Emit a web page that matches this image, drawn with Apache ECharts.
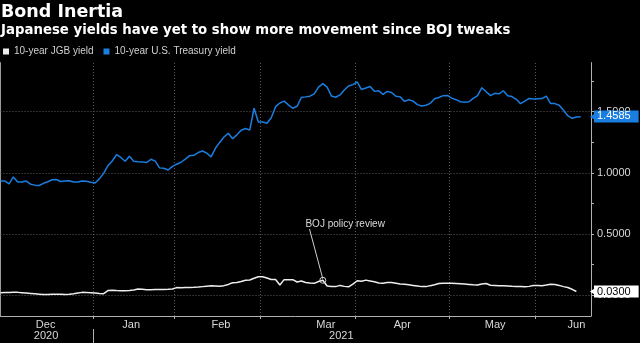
<!DOCTYPE html>
<html><head><meta charset="utf-8">
<script src="https://cdn.jsdelivr.net/npm/echarts@6/dist/echarts.min.js"></script>
<style>html,body{margin:0;padding:0;background:#000}#c{width:640px;height:343px}</style>
</head><body><div id="c"></div>
<script>
// ---- data ----
const months = ['Dec','Jan','Feb','Mar','Apr','May','Jun'];
const monthStarts = [0,22,41,61,83,105,125];          // trading-day index of month starts
const monthLabelAt = [10.5,30.4,51.3,75.7,93.5,115.1,134];
const years = ['2020','2021'];
const yearLabelAt = [10.6,79.3];
const yearBreak = [21.5];
const xEnd = 137.4;
const yTicks = [0,0.5,1,1.5];
const yMinorTicks = [0,0.25,0.5,0.75,1,1.25,1.5,1.75];
const seriesNames = ['10-year JGB yield','10-year U.S. Treasury yield'];

const ust = [0.933,0.933,0.91,0.966,0.925,0.924,0.932,0.907,0.899,0.896,
0.914,0.927,0.943,0.945,0.929,0.932,0.935,0.924,0.925,0.932,
0.93,0.922,0.917,0.95,0.995,1.058,1.096,1.148,1.125,1.094,
1.135,1.095,1.09,1.089,1.084,1.11,1.095,1.04,1.037,1.023,
1.052,1.07,1.086,1.112,1.14,1.143,1.165,1.178,1.16,1.13,
1.2,1.248,1.292,1.323,1.278,1.31,1.347,1.362,1.348,1.527,
1.415,1.415,1.405,1.45,1.54,1.57,1.585,1.555,1.527,1.543,
1.615,1.62,1.626,1.644,1.7,1.728,1.7,1.627,1.617,1.636,
1.676,1.709,1.72,1.742,1.68,1.692,1.705,1.665,1.67,1.64,
1.665,1.655,1.625,1.62,1.583,1.597,1.585,1.557,1.545,1.552,
1.567,1.605,1.615,1.63,1.632,1.61,1.597,1.58,1.576,1.58,
1.607,1.63,1.695,1.662,1.63,1.649,1.645,1.67,1.63,1.623,
1.6,1.565,1.585,1.607,1.602,1.605,1.606,1.627,1.565,1.565,
1.552,1.51,1.466,1.445,1.455,1.4585];

const jgb = [0.02,0.021,0.022,0.024,0.023,0.02,0.017,0.014,0.011,0.008,
0.005,0.005,0.007,0.008,0.007,0.006,0.008,0.012,0.018,0.023,
0.022,0.02,0.017,0.014,0.012,0.038,0.04,0.038,0.037,0.036,
0.038,0.042,0.05,0.048,0.045,0.045,0.046,0.046,0.047,0.048,
0.05,0.062,0.061,0.062,0.063,0.064,0.066,0.07,0.074,0.077,
0.075,0.073,0.078,0.088,0.101,0.104,0.112,0.122,0.124,0.138,
0.151,0.151,0.14,0.128,0.128,0.083,0.127,0.127,0.127,0.108,
0.116,0.104,0.1,0.097,0.112,0.122,0.075,0.071,0.07,0.08,
0.072,0.068,0.09,0.118,0.114,0.123,0.116,0.109,0.1,0.098,
0.103,0.104,0.098,0.092,0.089,0.085,0.08,0.075,0.07,0.07,
0.078,0.085,0.095,0.097,0.097,0.097,0.096,0.094,0.091,0.088,
0.085,0.083,0.092,0.096,0.081,0.08,0.078,0.077,0.075,0.073,
0.072,0.071,0.069,0.072,0.08,0.08,0.078,0.083,0.09,0.088,
0.08,0.07,0.063,0.048,0.03];

const annotText = 'BOJ policy review';
const annotIndex = 75;
const annotLabelAt = [80.2, 0.582];
const annotLineTop = [71.9, 0.54];

// ---- chart ----
const boundaries = monthStarts.slice(1).map(s => s - 0.5);
const nearest = (arr, v) => { let b = 0; arr.forEach((a, k) => { if (Math.abs(a - v) < Math.abs(arr[b] - v)) b = k; }); return b; };
const blue = '#1a7ee0';
const white = '#eeeeee';
const smallFont = 'Liberation Sans';
const lastU = ust[ust.length - 1];
const lastJ = jgb[jgb.length - 1];
const hidden = {color: 'rgba(0,0,0,0)', width: 0};

const chart = echarts.init(document.getElementById('c'), null, {renderer: 'canvas'});
chart.setOption({
  backgroundColor: '#000',
  animation: false,
  title: {
    text: 'Bond Inertia',
    subtext: 'Japanese yields have yet to show more movement since BOJ tweaks',
    left: 1, top: 3, padding: 0, itemGap: 3,
    textStyle: {color: '#fff', fontSize: 17.5, fontWeight: 'bold', fontFamily: 'DejaVu Sans'},
    subtextStyle: {color: '#fff', fontSize: 13.3, fontWeight: 'bold', fontFamily: 'DejaVu Sans'}
  },
  legend: {
    data: seriesNames,
    left: 3, top: 46.5, padding: 0, itemGap: 10,
    icon: 'rect', itemWidth: 6, itemHeight: 6,
    textStyle: {color: '#d0d0d0', fontSize: 10, fontFamily: smallFont}
  },
  grid: {left: 0.5, right: 49, top: 62.6, bottom: 27, containLabel: false},
  xAxis: [{
    type: 'value', min: 0, max: xEnd, position: 'bottom',
    axisLine: {show: true, onZero: false, lineStyle: {color: '#b0b0b0', width: 1}},
    axisTick: {show: true, customValues: boundaries, length: 3, lineStyle: {color: '#b0b0b0'}},
    axisLabel: {customValues: monthLabelAt, formatter: v => months[nearest(monthLabelAt, v)],
      color: '#d8d8d8', fontSize: 11, fontFamily: smallFont, margin: 3},
    splitLine: {show: false}
  }, {
    type: 'value', min: 0, max: xEnd, position: 'bottom', offset: 13,
    axisLine: {show: false, onZero: false},
    axisTick: {show: true, customValues: yearBreak, length: 14, lineStyle: {color: '#b0b0b0'}},
    axisLabel: {customValues: yearLabelAt, formatter: v => years[nearest(yearLabelAt, v)],
      color: '#d8d8d8', fontSize: 11, fontFamily: smallFont, margin: 1},
    splitLine: {show: false}
  }],
  yAxis: [{
    type: 'value', min: -0.17, max: 1.9, position: 'right',
    axisLine: {show: true, onZero: false, lineStyle: {color: '#b0b0b0', width: 1}},
    axisTick: {show: true, customValues: yMinorTicks, length: 3, lineStyle: {color: '#b0b0b0'}},
    axisLabel: {customValues: yTicks, formatter: v => v.toFixed(4),
      color: '#d8d8d8', fontSize: 11, fontFamily: smallFont, margin: 6},
    splitLine: {show: false}
  }, {
    type: 'value', min: -0.17, max: 1.9, position: 'left',
    axisLine: {show: true, onZero: false, lineStyle: {color: '#9a9a9a', width: 1}},
    axisTick: {show: false}, axisLabel: {show: false}, splitLine: {show: false}
  }],
  series: [{
    type: 'line', name: 'grid', data: [], silent: true,
    markLine: {
      silent: true, symbol: ['none', 'none'], z: 1, animation: false,
      label: {show: false},
      lineStyle: {type: [1, 2], color: '#5a5a5a', width: 1},
      data: [...yTicks.map(v => ({yAxis: v})), ...boundaries.map(b => ({xAxis: b}))]
    }
  }, {
    type: 'line', name: seriesNames[0], data: jgb.map((v, i) => [i, v]),
    showSymbol: false, symbol: 'none', z: 3, clip: false,
    lineStyle: {color: white, width: 1.5}, itemStyle: {color: white},
    markLine: {
      silent: true, animation: false, z: 6, symbol: ['none', 'none'],
      data: [
        [{coord: annotLineTop, lineStyle: {color: '#cfcfcf', width: 1, type: 'solid'}, label: {show: false}},
         {coord: [annotIndex, jgb[annotIndex] + 0.012]}],
        {yAxis: lastJ, lineStyle: hidden,
          label: {show: true, position: 'end', distance: 3, formatter: () => lastJ.toFixed(4),
            color: '#000', backgroundColor: '#fff', padding: [1, 8, 0, 3], opacity: 1,
            fontSize: 11, fontFamily: smallFont}}
      ]
    },
    markPoint: {
      silent: true, animation: false, z: 6,
      data: [
        {coord: annotLabelAt, symbol: 'rect', symbolSize: 1, itemStyle: {color: 'rgba(0,0,0,0)'},
          label: {show: true, position: 'inside', formatter: annotText, color: '#dcdcdc', fontSize: 10, fontFamily: smallFont}},
        {coord: [annotIndex, jgb[annotIndex]], symbol: 'circle', symbolSize: 6,
          itemStyle: {color: 'rgba(0,0,0,0)', borderColor: '#cfcfcf', borderWidth: 1}, label: {show: false}},
        {coord: [xEnd, lastJ], symbol: 'triangle', symbolSize: [8, 6], symbolRotate: 90, symbolOffset: [2, 0],
          itemStyle: {color: '#fff'}, label: {show: false}}
      ]
    }
  }, {
    type: 'line', name: seriesNames[1], data: ust.map((v, i) => [i, v]),
    showSymbol: false, symbol: 'none', z: 3, clip: false,
    lineStyle: {color: blue, width: 1.5}, itemStyle: {color: blue},
    markLine: {
      silent: true, animation: false, z: 6, symbol: ['none', 'none'],
      data: [
        {yAxis: lastU, lineStyle: hidden,
          label: {show: true, position: 'end', distance: 3, formatter: () => lastU.toFixed(4),
            color: '#fff', backgroundColor: blue, padding: [1, 8, 0, 3], opacity: 1,
            fontSize: 11, fontFamily: smallFont}}
      ]
    },
    markPoint: {
      silent: true, animation: false, z: 6,
      data: [
        {coord: [xEnd, lastU], symbol: 'triangle', symbolSize: [8, 6], symbolRotate: 90, symbolOffset: [2, 0],
          itemStyle: {color: blue}, label: {show: false}}
      ]
    }
  }]
});
</script>
</body></html>
